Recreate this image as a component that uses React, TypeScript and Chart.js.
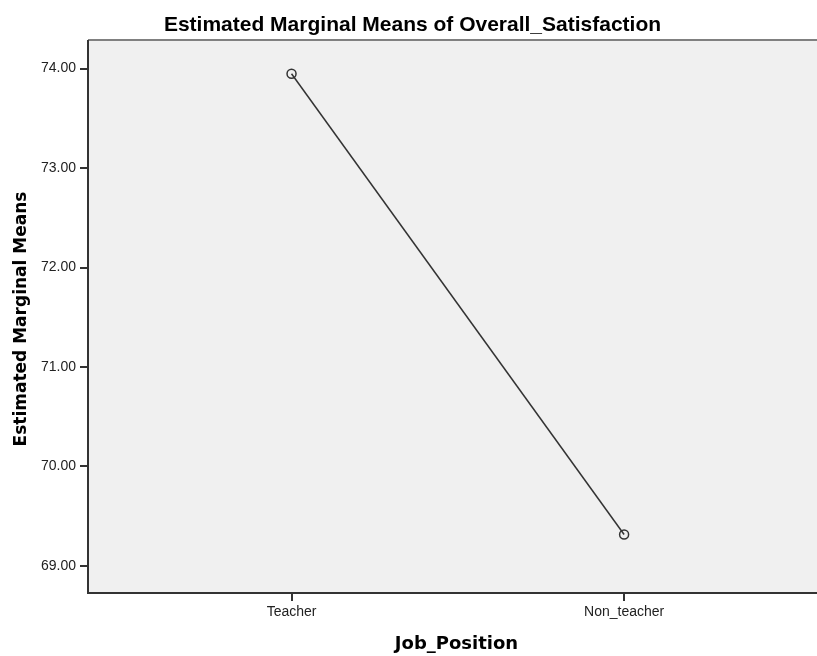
import React, { useEffect, useRef } from "react";
import { Chart, registerables } from "chart.js";

Chart.register(...registerables);

const categories = ["Teacher", "Non_teacher"];
const categoryPositions = [1, 2];
const meanValues = [73.948, 69.316];
const yTickValues = [69, 70, 71, 72, 73, 74];

const chartTitle = "Estimated Marginal Means of Overall_Satisfaction";
const yTitle = "Estimated Marginal Means";
const xTitle = "Job_Position";

const decorPlugin = {
  id: "decor",
  beforeDraw(chart: any) {
    const { ctx, chartArea } = chart;
    ctx.save();
    ctx.fillStyle = "#f0f0f0";
    ctx.fillRect(chartArea.left, chartArea.top, chartArea.right - chartArea.left, chartArea.bottom - chartArea.top);
    ctx.restore();
  },
  afterDraw(chart: any) {
    const { ctx, chartArea } = chart;
    ctx.save();
    ctx.strokeStyle = "#808080";
    ctx.lineWidth = 2;
    ctx.beginPath();
    ctx.moveTo(chartArea.left, chartArea.top);
    ctx.lineTo(chartArea.right, chartArea.top);
    ctx.stroke();
    ctx.strokeStyle = "#333333";
    ctx.beginPath();
    ctx.moveTo(chartArea.left, chartArea.top);
    ctx.lineTo(chartArea.left, chartArea.bottom);
    ctx.lineTo(chartArea.right, chartArea.bottom);
    ctx.stroke();

    ctx.fillStyle = "#000000";
    ctx.textAlign = "center";
    ctx.textBaseline = "alphabetic";
    ctx.font = "bold 21px 'Liberation Sans', Arial, sans-serif";
    ctx.fillText(chartTitle, 412.5, 31);

    ctx.font = "bold 18px 'DejaVu Sans', sans-serif";
    ctx.fillText(xTitle, 456.5, 649);

    ctx.save();
    ctx.translate(26, 319);
    ctx.rotate(-Math.PI / 2);
    ctx.font = "bold 17px 'DejaVu Sans', sans-serif";
    ctx.fillText(yTitle, 0, 0);
    ctx.restore();
    ctx.restore();
  },
};

export default function App() {
  const ref = useRef<HTMLCanvasElement | null>(null);
  useEffect(() => {
    document.body.style.margin = "0";
    const canvas = ref.current!;
    const chart = new Chart(canvas, {
      type: "line",
      data: {
        datasets: [
          {
            data: categoryPositions.map((x, i) => ({ x, y: meanValues[i] })),
            borderColor: "#333333",
            borderWidth: 1.5,
            pointRadius: 4.5,
            pointBorderWidth: 1.5,
            pointBackgroundColor: "rgba(0,0,0,0)",
            pointBorderColor: "#333333",
            tension: 0,
          },
        ],
      },
      options: {
        animation: false,
        responsive: false,
        maintainAspectRatio: false,
        layout: { autoPadding: false, padding: { top: 40, left: 0, right: 0, bottom: 0 } },
        plugins: {
          legend: { display: false },
          tooltip: { enabled: false },
          title: { display: false },
        },
        scales: {
          x: {
            type: "linear",
            min: 0.388,
            max: 2.58,
            afterBuildTicks: (scale: any) => {
              scale.ticks = categoryPositions.map((v) => ({ value: v }));
            },
            afterFit: (scale: any) => {
              scale.height = 63;
            },
            ticks: {
              autoSkip: false,
              maxRotation: 0,
              padding: 3,
              color: "#222222",
              font: { family: "'Liberation Sans', Arial, sans-serif", size: 14 },
              callback: (v: any) => {
                const i = categoryPositions.indexOf(Number(v));
                return i >= 0 ? categories[i] : "";
              },
            },
            grid: { drawOnChartArea: false, drawTicks: true, tickLength: 8, color: "#333333", lineWidth: 2 },
            border: { display: false },
          },
          y: {
            type: "linear",
            min: 68.728,
            max: 74.287,
            afterBuildTicks: (scale: any) => {
              scale.ticks = yTickValues.map((v) => ({ value: v }));
            },
            afterFit: (scale: any) => {
              scale.width = 88;
            },
            ticks: {
              padding: 4,
              color: "#222222",
              font: { family: "'Liberation Sans', Arial, sans-serif", size: 14 },
              callback: (v: any) => Number(v).toFixed(2),
            },
            grid: { drawOnChartArea: false, drawTicks: true, tickLength: 8, color: "#333333", lineWidth: 2 },
            border: { display: false },
          },
        },
      },
      plugins: [decorPlugin],
    });
    return () => chart.destroy();
  }, []);
  return (
    <div style={{ width: 817, height: 656 }}>
      <canvas ref={ref} width={817} height={656} style={{ display: "block" }} />
    </div>
  );
}
